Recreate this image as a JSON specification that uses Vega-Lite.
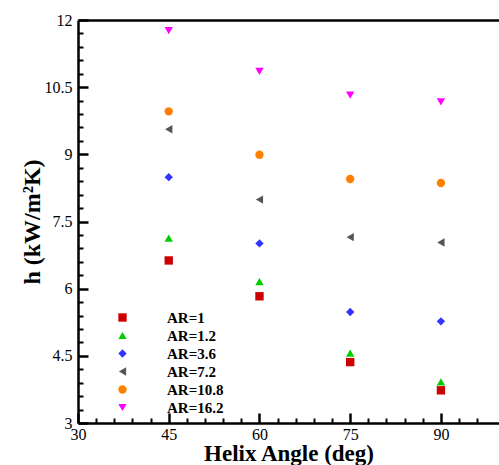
{
  "$schema": "https://vega.github.io/schema/vega-lite/v6.json",
  "autosize": "none",
  "padding": {"left": 78, "top": 20, "right": 0, "bottom": 42},
  "width": 421,
  "height": 403,
  "background": "white",
  "config": {
    "view": {"stroke": null},
    "font": "Liberation Serif",
    "axis": {"labelFont": "Liberation Serif", "titleFont": "Liberation Serif", "labelColor": "black", "titleColor": "black", "domainColor": "black", "grid": false}
  },
  "data": {
    "values": [
      {"angle": 45, "AR": "AR=1", "h": 6.63},
      {"angle": 60, "AR": "AR=1", "h": 5.83},
      {"angle": 75, "AR": "AR=1", "h": 4.36},
      {"angle": 90, "AR": "AR=1", "h": 3.73},
      {"angle": 45, "AR": "AR=1.2", "h": 7.13},
      {"angle": 60, "AR": "AR=1.2", "h": 6.16},
      {"angle": 75, "AR": "AR=1.2", "h": 4.56},
      {"angle": 90, "AR": "AR=1.2", "h": 3.92},
      {"angle": 45, "AR": "AR=3.6", "h": 8.49},
      {"angle": 60, "AR": "AR=3.6", "h": 7.01},
      {"angle": 75, "AR": "AR=3.6", "h": 5.48},
      {"angle": 90, "AR": "AR=3.6", "h": 5.27},
      {"angle": 45, "AR": "AR=7.2", "h": 9.56},
      {"angle": 60, "AR": "AR=7.2", "h": 7.99},
      {"angle": 75, "AR": "AR=7.2", "h": 7.15},
      {"angle": 90, "AR": "AR=7.2", "h": 7.03},
      {"angle": 45, "AR": "AR=10.8", "h": 9.96},
      {"angle": 60, "AR": "AR=10.8", "h": 8.99},
      {"angle": 75, "AR": "AR=10.8", "h": 8.45},
      {"angle": 90, "AR": "AR=10.8", "h": 8.36},
      {"angle": 45, "AR": "AR=16.2", "h": 11.76},
      {"angle": 60, "AR": "AR=16.2", "h": 10.85},
      {"angle": 75, "AR": "AR=16.2", "h": 10.32},
      {"angle": 90, "AR": "AR=16.2", "h": 10.17}
    ]
  },
  "resolve": {"axis": {"x": "independent", "y": "independent"}},
  "layer": [
    {
      "mark": {"type": "point", "filled": true, "opacity": 0},
      "encoding": {
        "x": {
          "field": "angle", "type": "quantitative",
          "scale": {"domain": [30, 99.6], "nice": false, "zero": false},
          "axis": {
            "orient": "bottom",
            "values": [33,36,39,42,48,51,54,57,63,66,69,72,78,81,84,87,93,96],
            "labels": false, "tickSize": -5, "tickWidth": 2, "tickColor": "#000000", "domain": false, "title": null
          }
        },
        "y": {
          "field": "h", "type": "quantitative",
          "scale": {"domain": [3, 12], "nice": false, "zero": false},
          "axis": {
            "orient": "left",
            "values": [3.3,3.6,3.9,4.2,4.8,5.1,5.4,5.7,6.3,6.6,6.9,7.2,7.8,8.1,8.4,8.7,9.3,9.6,9.9,10.2,10.8,11.1,11.4,11.7],
            "labels": false, "tickSize": -5, "tickWidth": 2, "tickColor": "#000000", "domain": false, "title": null
          }
        }
      }
    },
    {
      "mark": {"type": "point", "filled": true, "opacity": 0},
      "encoding": {
        "x": {
          "field": "angle", "type": "quantitative",
          "axis": {
            "orient": "bottom",
            "values": [30, 45, 60, 75, 90],
            "labels": false, "tickSize": -10, "tickWidth": 2.5, "tickColor": "#000000", "domain": false, "title": null
          }
        },
        "y": {
          "field": "h", "type": "quantitative",
          "axis": {
            "orient": "left",
            "values": [3, 4.5, 6, 7.5, 9, 10.5, 12],
            "labels": false, "tickSize": -10, "tickWidth": 2.5, "tickColor": "#000000", "domain": false, "title": null
          }
        }
      }
    },
    {
      "mark": {"type": "point", "opacity": 0},
      "encoding": {
        "x": {
          "field": "angle", "type": "quantitative",
          "axis": {"orient": "top", "labels": false, "ticks": false, "domain": true, "domainWidth": 2.5, "title": null}
        },
        "y": {
          "field": "h", "type": "quantitative",
          "axis": null
        }
      }
    },
    {
      "mark": {"type": "point", "filled": true, "opacity": 1, "size": 70},
      "encoding": {
        "x": {
          "field": "angle", "type": "quantitative",
          "axis": {
            "orient": "bottom",
            "values": [30, 45, 60, 75, 90],
            "ticks": false, "domainWidth": 2.5,
            "labelFontSize": 16, "labelPadding": 3, "labelFlush": false, "labelOverlap": false,
            "title": "Helix Angle (deg)", "titleFontSize": 23, "titleFontWeight": "bold",
            "titleBaseline": "alphabetic", "titleY": 37
          }
        },
        "y": {
          "field": "h", "type": "quantitative",
          "axis": {
            "orient": "left",
            "values": [3, 4.5, 6, 7.5, 9, 10.5, 12],
            "labelExpr": "datum.value + ''",
            "ticks": false, "domainWidth": 2.5,
            "labelFontSize": 16, "labelPadding": 6, "labelFlush": false, "labelOverlap": false,
            "title": "h (kW/m²K)", "titleFontSize": 24, "titleFontWeight": "bold",
            "titleBaseline": "alphabetic", "titleX": -39
          }
        },
        "color": {
          "field": "AR", "type": "nominal",
          "scale": {
            "domain": ["AR=1", "AR=1.2", "AR=3.6", "AR=7.2", "AR=10.8", "AR=16.2"],
            "range": ["#cc0000", "#00cc00", "#3333ff", "#555555", "#ff8000", "#ff00ff"]
          },
          "legend": {
            "orient": "none", "legendX": 37, "legendY": 290, "title": null,
            "labelFont": "Liberation Serif", "labelFontSize": 15, "labelFontWeight": "bold", "labelColor": "black",
            "labelOffset": 37, "rowPadding": 2, "symbolSize": 70, "symbolOpacity": 1, "padding": 0
          }
        },
        "shape": {
          "field": "AR", "type": "nominal",
          "scale": {
            "domain": ["AR=1", "AR=1.2", "AR=3.6", "AR=7.2", "AR=10.8", "AR=16.2"],
            "range": ["square", "triangle-up", "diamond", "triangle-left", "circle", "triangle-down"]
          },
          "legend": null
        }
      }
    }
  ]
}
